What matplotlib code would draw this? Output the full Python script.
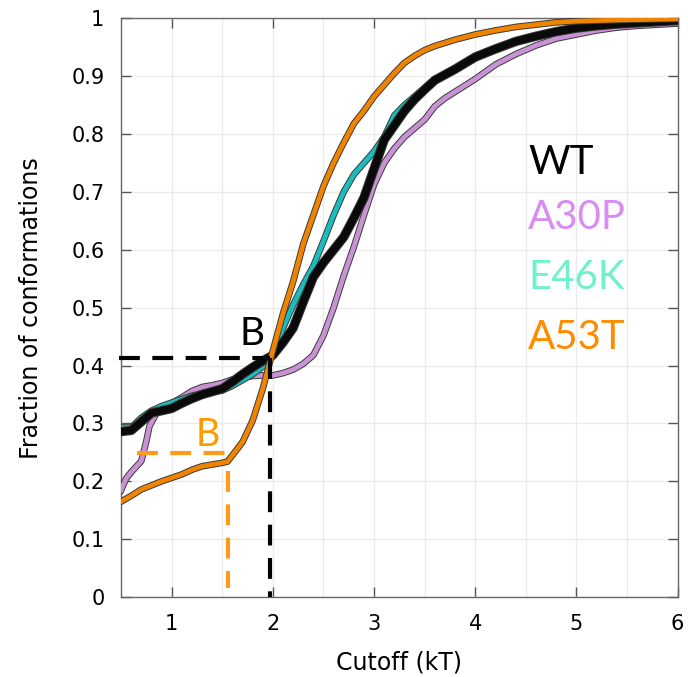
import matplotlib
matplotlib.use("Agg")
import matplotlib.pyplot as plt
import matplotlib.patheffects as pe
import numpy as np

# ---- data ----
wt_x = [0.5, 0.6, 0.7, 0.8, 0.9, 1.0, 1.1, 1.2, 1.3, 1.4, 1.5, 1.6, 1.7, 1.8, 1.9, 2.0,
        2.1, 2.2, 2.3, 2.4, 2.5, 2.6, 2.7, 2.8, 2.9, 3.0, 3.1, 3.2, 3.3, 3.4, 3.5, 3.6,
        3.8, 4.0, 4.2, 4.4, 4.6, 4.8, 5.0, 5.2, 5.4, 5.6, 5.8, 6.0]
wt_y = [0.286, 0.288, 0.303, 0.318, 0.322, 0.326, 0.335, 0.343, 0.350, 0.355, 0.360, 0.372,
        0.385, 0.397, 0.408, 0.418, 0.440, 0.465, 0.510, 0.553, 0.578, 0.600, 0.622, 0.655,
        0.690, 0.740, 0.790, 0.815, 0.840, 0.860, 0.877, 0.893, 0.912, 0.933, 0.947, 0.960,
        0.969, 0.977, 0.983, 0.987, 0.990, 0.992, 0.994, 0.996]

e46k_x = wt_x
e46k_y = [0.293, 0.293, 0.310, 0.322, 0.330, 0.336, 0.342, 0.348, 0.352, 0.355, 0.357, 0.365,
          0.375, 0.385, 0.398, 0.420, 0.465, 0.505, 0.540, 0.572, 0.615, 0.660, 0.700, 0.730,
          0.750, 0.770, 0.795, 0.832, 0.850, 0.865, 0.880, 0.894, 0.914, 0.935, 0.949, 0.961,
          0.970, 0.978, 0.984, 0.988, 0.991, 0.993, 0.995, 0.997]

a53t_x = [0.5, 0.6, 0.7, 0.8, 0.9, 1.0, 1.1, 1.2, 1.3, 1.4, 1.5, 1.55, 1.6, 1.7, 1.8, 1.9,
          2.0, 2.1, 2.2, 2.3, 2.4, 2.5, 2.6, 2.7, 2.8, 2.9, 3.0, 3.1, 3.2, 3.3, 3.4, 3.5,
          3.6, 3.8, 4.0, 4.2, 4.4, 4.6, 4.8, 5.0, 5.4, 6.0]
a53t_y = [0.165, 0.175, 0.186, 0.193, 0.200, 0.206, 0.212, 0.220, 0.226, 0.229, 0.232, 0.234,
          0.245, 0.268, 0.305, 0.360, 0.426, 0.490, 0.545, 0.610, 0.660, 0.710, 0.750, 0.785,
          0.818, 0.840, 0.865, 0.885, 0.905, 0.923, 0.935, 0.945, 0.952, 0.963, 0.972, 0.979,
          0.985, 0.989, 0.993, 0.995, 0.997, 0.999]

a30p_x = [0.5, 0.55, 0.6, 0.7, 0.75, 0.78, 0.85, 0.9, 1.0, 1.1, 1.2, 1.3, 1.4, 1.5, 1.6,
          1.7, 1.8, 1.9, 2.0, 2.1, 2.2, 2.3, 2.4, 2.5, 2.6, 2.7, 2.8, 2.9, 3.0, 3.1, 3.2,
          3.3, 3.4, 3.5, 3.6, 3.7, 3.8, 3.9, 4.0, 4.2, 4.4, 4.6, 4.8, 5.0, 5.2, 5.4, 5.6,
          5.8, 6.0]
a30p_y = [0.185, 0.205, 0.216, 0.235, 0.270, 0.295, 0.318, 0.325, 0.335, 0.345, 0.356, 0.363,
          0.366, 0.370, 0.376, 0.379, 0.382, 0.383, 0.383, 0.387, 0.393, 0.403, 0.418, 0.452,
          0.500, 0.555, 0.605, 0.660, 0.713, 0.750, 0.775, 0.795, 0.810, 0.825, 0.848, 0.862,
          0.873, 0.884, 0.895, 0.920, 0.938, 0.953, 0.965, 0.972, 0.979, 0.984, 0.987, 0.989,
          0.991]

labels = ["WT", "A30P", "E46K", "A53T"]
label_colors = ["#000000", "#d98cf2", "#6ff2cc", "#ff8c00"]
line_colors = {"WT": "#0a0a0a", "A30P": "#c992d4", "E46K": "#1bbcbc", "A53T": "#f08400"}

x_ticks = [1, 2, 3, 4, 5, 6]
y_ticks = [0, 0.1, 0.2, 0.3, 0.4, 0.5, 0.6, 0.7, 0.8, 0.9, 1]
y_ticklabels = ["0", "0.1", "0.2", "0.3", "0.4", "0.5", "0.6", "0.7", "0.8", "0.9", "1"]

# B markers
wt_b = (1.97, 0.413)
a53t_b = (1.56, 0.249)

fig = plt.figure(figsize=(6.88, 6.77), dpi=100)
ax = fig.add_axes([0.176, 0.118, 0.809, 0.855])

ax.set_xlim(0.5, 6)
ax.set_ylim(0, 1)

# grid
ax.set_xticks(x_ticks)
ax.set_xticks(np.arange(0.5, 6.01, 0.5), minor=True)
ax.set_yticks(y_ticks)
ax.set_yticklabels(y_ticklabels)
ax.grid(True, which="both", axis="x", color="#ebebeb", lw=1)
ax.grid(True, which="major", axis="y", color="#ebebeb", lw=1)
ax.set_axisbelow(True)

ax.tick_params(which="major", direction="in", length=7, width=1, color="#555555",
               top=True, right=True, labelsize=15, pad=12)
ax.tick_params(which="minor", length=0, top=False, right=False)
for s in ax.spines.values():
    s.set_color("#666666")
    s.set_linewidth(1)

def outlined(lw):
    return [pe.Stroke(linewidth=lw + 1.4, foreground="#3a3a3a"), pe.Normal()]

ax.plot(a30p_x, a30p_y, color=line_colors["A30P"], lw=3.4, path_effects=outlined(3.4), zorder=3,
        solid_joinstyle="round")
ax.plot(e46k_x, e46k_y, color=line_colors["E46K"], lw=3.4, path_effects=outlined(3.4), zorder=4,
        solid_joinstyle="round")
ax.plot(wt_x, wt_y, color=line_colors["WT"], lw=5.4, path_effects=outlined(5.4), zorder=5,
        solid_joinstyle="round")
ax.plot(a53t_x, a53t_y, color=line_colors["A53T"], lw=3.4, path_effects=outlined(3.4), zorder=6,
        solid_joinstyle="round")

# dashed guide lines
ax.plot([0.48, wt_b[0]], [wt_b[1], wt_b[1]], color="black", lw=3, ls=(0, (5, 3)),
        dash_capstyle="butt", clip_on=False, zorder=7)
ax.plot([wt_b[0], wt_b[0]], [wt_b[1], 0], color="black", lw=3, ls=(0, (5, 3)),
        dash_capstyle="butt", zorder=7)
ax.plot([0.66, 1.58], [a53t_b[1], a53t_b[1]], color="#ff9a1a", lw=3, ls=(0, (5, 3)),
        dash_capstyle="butt", zorder=7)
ax.plot([a53t_b[0], a53t_b[0]], [0.218, 0.015], color="#ff9a1a", lw=3, ls=(0, (5, 3)),
        dash_capstyle="butt", zorder=7)

ax.text(1.79, 0.455, "B", fontsize=28, family="Lato", color="black", ha="center", va="center", zorder=8)
ax.text(1.36, 0.28, "B", fontsize=27, family="Lato", color="#ff9900", ha="center", va="center", zorder=8)

# legend-like labels
leg_y = [0.751, 0.655, 0.553, 0.449]
for lab, col, yy in zip(labels, label_colors, leg_y):
    ax.text(4.52, yy, lab, fontsize=29, family="Lato", color=col, ha="left", va="center", zorder=8)

ax.set_xlabel("Cutoff (kT)", fontsize=17, labelpad=12)
ax.set_ylabel("Fraction of conformations", fontsize=17, labelpad=20)

fig.savefig("out.png", dpi=100)
